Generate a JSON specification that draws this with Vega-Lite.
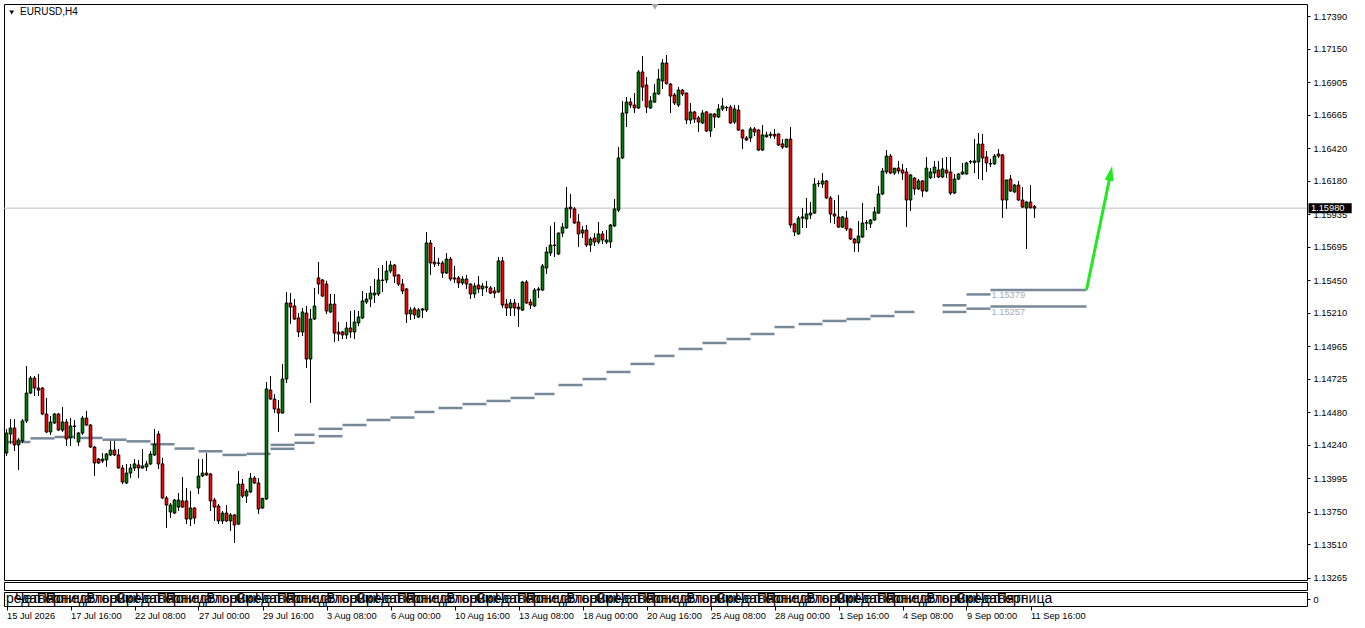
{
"$schema":"https://vega.github.io/schema/vega-lite/v6.json",
"background":"white",
"padding":{"left":3,"top":3,"right":0,"bottom":0},
"spacing":2,
"bounds":"flush",
"config":{"font":"Liberation Sans","scale":{"continuousPadding":0},"view":{"stroke":"#000","strokeWidth":1},"axis":{"grid":false,"domain":false,"labelColor":"#000","tickColor":"#000","labelFontSize":9.3,"tickSize":3,"labelFont":"Liberation Sans","title":null,"labelOverlap":false,"labelSeparation":0,"labelFlush":false}},
"datasets":{
"candles":[
{"i":0,"o":1.14180,"h":1.14357,"l":1.14158,"c":1.14327},
{"i":1,"o":1.14320,"h":1.14430,"l":1.14246,"c":1.14364},
{"i":2,"o":1.14364,"h":1.14430,"l":1.14195,"c":1.14239},
{"i":3,"o":1.14239,"h":1.14291,"l":1.14055,"c":1.14276},
{"i":4,"o":1.14269,"h":1.14430,"l":1.14254,"c":1.14416},
{"i":5,"o":1.14416,"h":1.14820,"l":1.14401,"c":1.14621},
{"i":6,"o":1.14621,"h":1.14746,"l":1.14614,"c":1.14731},
{"i":7,"o":1.14731,"h":1.14746,"l":1.14599,"c":1.14658},
{"i":8,"o":1.14658,"h":1.14761,"l":1.14599,"c":1.14643},
{"i":9,"o":1.14658,"h":1.14665,"l":1.14460,"c":1.14467},
{"i":10,"o":1.14467,"h":1.14585,"l":1.14327,"c":1.14335},
{"i":11,"o":1.14335,"h":1.14452,"l":1.14313,"c":1.14408},
{"i":12,"o":1.14401,"h":1.14474,"l":1.14394,"c":1.14467},
{"i":13,"o":1.14467,"h":1.14474,"l":1.14342,"c":1.14349},
{"i":14,"o":1.14349,"h":1.14518,"l":1.14335,"c":1.14408},
{"i":15,"o":1.14408,"h":1.14430,"l":1.14232,"c":1.14283},
{"i":16,"o":1.14291,"h":1.14437,"l":1.14232,"c":1.14379},
{"i":17,"o":1.14375,"h":1.14423,"l":1.14283,"c":1.14379},
{"i":18,"o":1.14261,"h":1.14335,"l":1.14232,"c":1.14327},
{"i":19,"o":1.14327,"h":1.14452,"l":1.14313,"c":1.14437},
{"i":20,"o":1.14437,"h":1.14489,"l":1.14379,"c":1.14386},
{"i":21,"o":1.14386,"h":1.14394,"l":1.14217,"c":1.14224},
{"i":22,"o":1.14224,"h":1.14232,"l":1.14011,"c":1.14107},
{"i":23,"o":1.14136,"h":1.14144,"l":1.14100,"c":1.14107},
{"i":24,"o":1.14122,"h":1.14180,"l":1.14107,"c":1.14136},
{"i":25,"o":1.14129,"h":1.14180,"l":1.14078,"c":1.14173},
{"i":26,"o":1.14166,"h":1.14269,"l":1.14158,"c":1.14202},
{"i":27,"o":1.14202,"h":1.14269,"l":1.14158,"c":1.14166},
{"i":28,"o":1.14166,"h":1.14210,"l":1.14066,"c":1.14070},
{"i":29,"o":1.14070,"h":1.14092,"l":1.13952,"c":1.13967},
{"i":30,"o":1.13960,"h":1.14100,"l":1.13952,"c":1.14033},
{"i":31,"o":1.14033,"h":1.14100,"l":1.13996,"c":1.14070},
{"i":32,"o":1.14070,"h":1.14136,"l":1.14048,"c":1.14100},
{"i":33,"o":1.14092,"h":1.14129,"l":1.13996,"c":1.14070},
{"i":34,"o":1.14070,"h":1.14210,"l":1.14066,"c":1.14085},
{"i":35,"o":1.14078,"h":1.14122,"l":1.14048,"c":1.14100},
{"i":36,"o":1.14100,"h":1.14195,"l":1.14092,"c":1.14173},
{"i":37,"o":1.14166,"h":1.14357,"l":1.14158,"c":1.14246},
{"i":38,"o":1.14320,"h":1.14342,"l":1.14063,"c":1.14100},
{"i":39,"o":1.14100,"h":1.14144,"l":1.13842,"c":1.13850},
{"i":40,"o":1.13850,"h":1.13864,"l":1.13629,"c":1.13798},
{"i":41,"o":1.13747,"h":1.13813,"l":1.13703,"c":1.13798},
{"i":42,"o":1.13739,"h":1.13842,"l":1.13732,"c":1.13835},
{"i":43,"o":1.13783,"h":1.13886,"l":1.13754,"c":1.13835},
{"i":44,"o":1.13828,"h":1.14004,"l":1.13776,"c":1.13783},
{"i":45,"o":1.13828,"h":1.13923,"l":1.13658,"c":1.13695},
{"i":46,"o":1.13695,"h":1.13901,"l":1.13644,"c":1.13776},
{"i":47,"o":1.13776,"h":1.13783,"l":1.13658,"c":1.13703},
{"i":48,"o":1.13923,"h":1.14136,"l":1.13879,"c":1.14011},
{"i":49,"o":1.14011,"h":1.14136,"l":1.14004,"c":1.14033},
{"i":50,"o":1.14033,"h":1.14180,"l":1.14011,"c":1.14019},
{"i":51,"o":1.14026,"h":1.14033,"l":1.13754,"c":1.13828},
{"i":52,"o":1.13835,"h":1.13850,"l":1.13681,"c":1.13783},
{"i":53,"o":1.13791,"h":1.13805,"l":1.13658,"c":1.13681},
{"i":54,"o":1.13681,"h":1.13754,"l":1.13658,"c":1.13739},
{"i":55,"o":1.13739,"h":1.13798,"l":1.13673,"c":1.13681},
{"i":56,"o":1.13681,"h":1.13739,"l":1.13607,"c":1.13725},
{"i":57,"o":1.13725,"h":1.13732,"l":1.13519,"c":1.13651},
{"i":58,"o":1.13658,"h":1.14048,"l":1.13651,"c":1.13952},
{"i":59,"o":1.13952,"h":1.13989,"l":1.13850,"c":1.13864},
{"i":60,"o":1.13864,"h":1.13916,"l":1.13813,"c":1.13901},
{"i":61,"o":1.13894,"h":1.14033,"l":1.13886,"c":1.13996},
{"i":62,"o":1.13996,"h":1.14011,"l":1.13952,"c":1.13960},
{"i":63,"o":1.13960,"h":1.13996,"l":1.13732,"c":1.13769},
{"i":64,"o":1.13776,"h":1.13850,"l":1.13769,"c":1.13847},
{"i":65,"o":1.13842,"h":1.14702,"l":1.13835,"c":1.14651},
{"i":66,"o":1.14643,"h":1.14746,"l":1.14570,"c":1.14577},
{"i":67,"o":1.14577,"h":1.14614,"l":1.14474,"c":1.14504},
{"i":68,"o":1.14504,"h":1.14570,"l":1.14335,"c":1.14474},
{"i":69,"o":1.14474,"h":1.14835,"l":1.14471,"c":1.14724},
{"i":70,"o":1.14724,"h":1.15364,"l":1.14695,"c":1.15283},
{"i":71,"o":1.15283,"h":1.15356,"l":1.15128,"c":1.15253},
{"i":72,"o":1.15261,"h":1.15312,"l":1.15158,"c":1.15165},
{"i":73,"o":1.15173,"h":1.15209,"l":1.15033,"c":1.15070},
{"i":74,"o":1.15070,"h":1.15246,"l":1.15040,"c":1.15217},
{"i":75,"o":1.15209,"h":1.15261,"l":1.14805,"c":1.14871},
{"i":76,"o":1.14871,"h":1.15239,"l":1.14548,"c":1.15165},
{"i":77,"o":1.15165,"h":1.15393,"l":1.15158,"c":1.15261},
{"i":78,"o":1.15467,"h":1.15584,"l":1.15349,"c":1.15422},
{"i":79,"o":1.15452,"h":1.15459,"l":1.15327,"c":1.15334},
{"i":80,"o":1.15422,"h":1.15445,"l":1.15202,"c":1.15224},
{"i":81,"o":1.15217,"h":1.15349,"l":1.15209,"c":1.15275},
{"i":82,"o":1.15275,"h":1.15349,"l":1.14996,"c":1.15062},
{"i":83,"o":1.15070,"h":1.15143,"l":1.15004,"c":1.15055},
{"i":84,"o":1.15070,"h":1.15077,"l":1.15018,"c":1.15048},
{"i":85,"o":1.15048,"h":1.15143,"l":1.15018,"c":1.15099},
{"i":86,"o":1.15099,"h":1.15224,"l":1.15026,"c":1.15070},
{"i":87,"o":1.15070,"h":1.15231,"l":1.15018,"c":1.15143},
{"i":88,"o":1.15136,"h":1.15224,"l":1.15114,"c":1.15180},
{"i":89,"o":1.15173,"h":1.15371,"l":1.15165,"c":1.15298},
{"i":90,"o":1.15290,"h":1.15356,"l":1.15275,"c":1.15312},
{"i":91,"o":1.15312,"h":1.15408,"l":1.15253,"c":1.15356},
{"i":92,"o":1.15342,"h":1.15459,"l":1.15283,"c":1.15356},
{"i":93,"o":1.15349,"h":1.15540,"l":1.15334,"c":1.15452},
{"i":94,"o":1.15452,"h":1.15562,"l":1.15364,"c":1.15448},
{"i":95,"o":1.15452,"h":1.15592,"l":1.15430,"c":1.15518},
{"i":96,"o":1.15518,"h":1.15592,"l":1.15503,"c":1.15562},
{"i":97,"o":1.15562,"h":1.15570,"l":1.15430,"c":1.15481},
{"i":98,"o":1.15489,"h":1.15496,"l":1.15408,"c":1.15422},
{"i":99,"o":1.15422,"h":1.15459,"l":1.15349,"c":1.15371},
{"i":100,"o":1.15386,"h":1.15393,"l":1.15136,"c":1.15202},
{"i":101,"o":1.15202,"h":1.15253,"l":1.15158,"c":1.15231},
{"i":102,"o":1.15239,"h":1.15253,"l":1.15165,"c":1.15195},
{"i":103,"o":1.15180,"h":1.15246,"l":1.15173,"c":1.15231},
{"i":104,"o":1.15239,"h":1.15246,"l":1.15173,"c":1.15231},
{"i":105,"o":1.15231,"h":1.15805,"l":1.15217,"c":1.15724},
{"i":106,"o":1.15724,"h":1.15746,"l":1.15489,"c":1.15577},
{"i":107,"o":1.15584,"h":1.15694,"l":1.15548,"c":1.15570},
{"i":108,"o":1.15577,"h":1.15614,"l":1.15555,"c":1.15575},
{"i":109,"o":1.15577,"h":1.15592,"l":1.15467,"c":1.15503},
{"i":110,"o":1.15503,"h":1.15650,"l":1.15496,"c":1.15606},
{"i":111,"o":1.15606,"h":1.15621,"l":1.15445,"c":1.15459},
{"i":112,"o":1.15467,"h":1.15555,"l":1.15430,"c":1.15459},
{"i":113,"o":1.15467,"h":1.15481,"l":1.15393,"c":1.15430},
{"i":114,"o":1.15430,"h":1.15481,"l":1.15415,"c":1.15459},
{"i":115,"o":1.15459,"h":1.15489,"l":1.15386,"c":1.15422},
{"i":116,"o":1.15422,"h":1.15427,"l":1.15312,"c":1.15349},
{"i":117,"o":1.15349,"h":1.15430,"l":1.15320,"c":1.15408},
{"i":118,"o":1.15415,"h":1.15481,"l":1.15356,"c":1.15386},
{"i":119,"o":1.15386,"h":1.15430,"l":1.15334,"c":1.15408},
{"i":120,"o":1.15401,"h":1.15445,"l":1.15364,"c":1.15398},
{"i":121,"o":1.15393,"h":1.15408,"l":1.15349,"c":1.15356},
{"i":122,"o":1.15371,"h":1.15400,"l":1.15320,"c":1.15356},
{"i":123,"o":1.15364,"h":1.15621,"l":1.15356,"c":1.15592},
{"i":124,"o":1.15592,"h":1.15621,"l":1.15246,"c":1.15268},
{"i":125,"o":1.15275,"h":1.15312,"l":1.15187,"c":1.15246},
{"i":126,"o":1.15246,"h":1.15312,"l":1.15187,"c":1.15283},
{"i":127,"o":1.15283,"h":1.15312,"l":1.15187,"c":1.15246},
{"i":128,"o":1.15253,"h":1.15283,"l":1.15106,"c":1.15239},
{"i":129,"o":1.15231,"h":1.15445,"l":1.15224,"c":1.15437},
{"i":130,"o":1.15437,"h":1.15452,"l":1.15275,"c":1.15283},
{"i":131,"o":1.15290,"h":1.15312,"l":1.15239,"c":1.15268},
{"i":132,"o":1.15261,"h":1.15393,"l":1.15253,"c":1.15378},
{"i":133,"o":1.15378,"h":1.15400,"l":1.15320,"c":1.15386},
{"i":134,"o":1.15378,"h":1.15570,"l":1.15371,"c":1.15555},
{"i":135,"o":1.15540,"h":1.15694,"l":1.15496,"c":1.15658},
{"i":136,"o":1.15650,"h":1.15849,"l":1.15628,"c":1.15709},
{"i":137,"o":1.15709,"h":1.15878,"l":1.15621,"c":1.15705},
{"i":138,"o":1.15643,"h":1.15801,"l":1.15636,"c":1.15797},
{"i":139,"o":1.15797,"h":1.15871,"l":1.15768,"c":1.15841},
{"i":140,"o":1.15834,"h":1.16136,"l":1.15830,"c":1.15981},
{"i":141,"o":1.15988,"h":1.16084,"l":1.15907,"c":1.15974},
{"i":142,"o":1.15974,"h":1.15988,"l":1.15864,"c":1.15871},
{"i":143,"o":1.15878,"h":1.15937,"l":1.15694,"c":1.15790},
{"i":144,"o":1.15797,"h":1.15849,"l":1.15761,"c":1.15819},
{"i":145,"o":1.15819,"h":1.15856,"l":1.15694,"c":1.15709},
{"i":146,"o":1.15709,"h":1.15768,"l":1.15658,"c":1.15753},
{"i":147,"o":1.15761,"h":1.15797,"l":1.15702,"c":1.15731},
{"i":148,"o":1.15731,"h":1.15878,"l":1.15716,"c":1.15790},
{"i":149,"o":1.15790,"h":1.15812,"l":1.15716,"c":1.15746},
{"i":150,"o":1.15731,"h":1.15819,"l":1.15716,"c":1.15746},
{"i":151,"o":1.15731,"h":1.15864,"l":1.15687,"c":1.15856},
{"i":152,"o":1.15849,"h":1.16047,"l":1.15841,"c":1.15974},
{"i":153,"o":1.15966,"h":1.16429,"l":1.15952,"c":1.16349},
{"i":154,"o":1.16349,"h":1.16768,"l":1.16341,"c":1.16679},
{"i":155,"o":1.16679,"h":1.16797,"l":1.16576,"c":1.16760},
{"i":156,"o":1.16760,"h":1.16790,"l":1.16716,"c":1.16738},
{"i":157,"o":1.16738,"h":1.16826,"l":1.16679,"c":1.16716},
{"i":158,"o":1.16716,"h":1.16995,"l":1.16709,"c":1.16981},
{"i":159,"o":1.16981,"h":1.17098,"l":1.16768,"c":1.16870},
{"i":160,"o":1.16885,"h":1.16944,"l":1.16679,"c":1.16723},
{"i":161,"o":1.16716,"h":1.16804,"l":1.16709,"c":1.16768},
{"i":162,"o":1.16760,"h":1.16892,"l":1.16753,"c":1.16826},
{"i":163,"o":1.16819,"h":1.17003,"l":1.16815,"c":1.16929},
{"i":164,"o":1.16915,"h":1.17076,"l":1.16856,"c":1.17047},
{"i":165,"o":1.17047,"h":1.17106,"l":1.16889,"c":1.16895},
{"i":166,"o":1.16892,"h":1.16900,"l":1.16679,"c":1.16804},
{"i":167,"o":1.16812,"h":1.16826,"l":1.16738,"c":1.16753},
{"i":168,"o":1.16738,"h":1.16870,"l":1.16723,"c":1.16848},
{"i":169,"o":1.16848,"h":1.16856,"l":1.16804,"c":1.16819},
{"i":170,"o":1.16826,"h":1.16830,"l":1.16598,"c":1.16628},
{"i":171,"o":1.16628,"h":1.16753,"l":1.16598,"c":1.16687},
{"i":172,"o":1.16687,"h":1.16694,"l":1.16606,"c":1.16635},
{"i":173,"o":1.16643,"h":1.16657,"l":1.16540,"c":1.16613},
{"i":174,"o":1.16606,"h":1.16701,"l":1.16598,"c":1.16679},
{"i":175,"o":1.16687,"h":1.16694,"l":1.16540,"c":1.16547},
{"i":176,"o":1.16547,"h":1.16676,"l":1.16503,"c":1.16672},
{"i":177,"o":1.16672,"h":1.16679,"l":1.16569,"c":1.16650},
{"i":178,"o":1.16650,"h":1.16745,"l":1.16643,"c":1.16709},
{"i":179,"o":1.16709,"h":1.16790,"l":1.16694,"c":1.16731},
{"i":180,"o":1.16720,"h":1.16731,"l":1.16694,"c":1.16718},
{"i":181,"o":1.16723,"h":1.16738,"l":1.16598,"c":1.16606},
{"i":182,"o":1.16613,"h":1.16738,"l":1.16598,"c":1.16709},
{"i":183,"o":1.16701,"h":1.16738,"l":1.16547,"c":1.16554},
{"i":184,"o":1.16554,"h":1.16558,"l":1.16415,"c":1.16496},
{"i":185,"o":1.16496,"h":1.16510,"l":1.16474,"c":1.16481},
{"i":186,"o":1.16496,"h":1.16576,"l":1.16466,"c":1.16562},
{"i":187,"o":1.16562,"h":1.16576,"l":1.16510,"c":1.16540},
{"i":188,"o":1.16554,"h":1.16562,"l":1.16400,"c":1.16407},
{"i":189,"o":1.16407,"h":1.16591,"l":1.16400,"c":1.16518},
{"i":190,"o":1.16505,"h":1.16542,"l":1.16498,"c":1.16518},
{"i":191,"o":1.16515,"h":1.16542,"l":1.16493,"c":1.16523},
{"i":192,"o":1.16523,"h":1.16562,"l":1.16488,"c":1.16510},
{"i":193,"o":1.16525,"h":1.16530,"l":1.16437,"c":1.16444},
{"i":194,"o":1.16452,"h":1.16488,"l":1.16415,"c":1.16429},
{"i":195,"o":1.16429,"h":1.16490,"l":1.16422,"c":1.16486},
{"i":196,"o":1.16488,"h":1.16576,"l":1.15834,"c":1.15856},
{"i":197,"o":1.15864,"h":1.15871,"l":1.15775,"c":1.15805},
{"i":198,"o":1.15790,"h":1.15922,"l":1.15786,"c":1.15907},
{"i":199,"o":1.15907,"h":1.15981,"l":1.15834,"c":1.15915},
{"i":200,"o":1.15900,"h":1.16055,"l":1.15834,"c":1.15937},
{"i":201,"o":1.15930,"h":1.16025,"l":1.15900,"c":1.15944},
{"i":202,"o":1.15944,"h":1.16201,"l":1.15937,"c":1.16157},
{"i":203,"o":1.16159,"h":1.16184,"l":1.16135,"c":1.16161},
{"i":204,"o":1.16157,"h":1.16238,"l":1.16128,"c":1.16180},
{"i":205,"o":1.16180,"h":1.16187,"l":1.16047,"c":1.16055},
{"i":206,"o":1.16055,"h":1.16069,"l":1.15871,"c":1.15937},
{"i":207,"o":1.15937,"h":1.16040,"l":1.15864,"c":1.15922},
{"i":208,"o":1.15915,"h":1.16077,"l":1.15834,"c":1.15841},
{"i":209,"o":1.15841,"h":1.15922,"l":1.15834,"c":1.15915},
{"i":210,"o":1.15907,"h":1.15959,"l":1.15812,"c":1.15827},
{"i":211,"o":1.15827,"h":1.15834,"l":1.15746,"c":1.15753},
{"i":212,"o":1.15753,"h":1.15761,"l":1.15658,"c":1.15724},
{"i":213,"o":1.15724,"h":1.15886,"l":1.15658,"c":1.15775},
{"i":214,"o":1.15768,"h":1.16018,"l":1.15761,"c":1.15871},
{"i":215,"o":1.15871,"h":1.15893,"l":1.15819,"c":1.15873},
{"i":216,"o":1.15864,"h":1.15900,"l":1.15834,"c":1.15893},
{"i":217,"o":1.15893,"h":1.15988,"l":1.15886,"c":1.15952},
{"i":218,"o":1.15944,"h":1.16143,"l":1.15937,"c":1.16084},
{"i":219,"o":1.16084,"h":1.16275,"l":1.16077,"c":1.16253},
{"i":220,"o":1.16246,"h":1.16407,"l":1.16231,"c":1.16363},
{"i":221,"o":1.16363,"h":1.16378,"l":1.16231,"c":1.16238},
{"i":222,"o":1.16238,"h":1.16277,"l":1.16224,"c":1.16273},
{"i":223,"o":1.16275,"h":1.16327,"l":1.16231,"c":1.16253},
{"i":224,"o":1.16260,"h":1.16305,"l":1.16187,"c":1.16238},
{"i":225,"o":1.16246,"h":1.16275,"l":1.15841,"c":1.16040},
{"i":226,"o":1.16040,"h":1.16231,"l":1.15959,"c":1.16224},
{"i":227,"o":1.16201,"h":1.16209,"l":1.16077,"c":1.16121},
{"i":228,"o":1.16121,"h":1.16194,"l":1.16113,"c":1.16180},
{"i":229,"o":1.16180,"h":1.16187,"l":1.16062,"c":1.16106},
{"i":230,"o":1.16106,"h":1.16356,"l":1.16099,"c":1.16275},
{"i":231,"o":1.16204,"h":1.16275,"l":1.16194,"c":1.16246},
{"i":232,"o":1.16238,"h":1.16327,"l":1.16201,"c":1.16282},
{"i":233,"o":1.16260,"h":1.16327,"l":1.16201,"c":1.16209},
{"i":234,"o":1.16209,"h":1.16349,"l":1.16201,"c":1.16268},
{"i":235,"o":1.16260,"h":1.16356,"l":1.16201,"c":1.16238},
{"i":236,"o":1.16246,"h":1.16356,"l":1.16077,"c":1.16091},
{"i":237,"o":1.16091,"h":1.16231,"l":1.16084,"c":1.16194},
{"i":238,"o":1.16194,"h":1.16238,"l":1.16187,"c":1.16231},
{"i":239,"o":1.16231,"h":1.16312,"l":1.16224,"c":1.16246},
{"i":240,"o":1.16231,"h":1.16320,"l":1.16227,"c":1.16312},
{"i":241,"o":1.16320,"h":1.16334,"l":1.16305,"c":1.16323},
{"i":242,"o":1.16315,"h":1.16488,"l":1.16238,"c":1.16327},
{"i":243,"o":1.16320,"h":1.16532,"l":1.16194,"c":1.16451},
{"i":244,"o":1.16451,"h":1.16525,"l":1.16187,"c":1.16349},
{"i":245,"o":1.16356,"h":1.16400,"l":1.16246,"c":1.16312},
{"i":246,"o":1.16305,"h":1.16341,"l":1.16282,"c":1.16307},
{"i":247,"o":1.16305,"h":1.16378,"l":1.16297,"c":1.16363},
{"i":248,"o":1.16378,"h":1.16415,"l":1.16349,"c":1.16363},
{"i":249,"o":1.16371,"h":1.16378,"l":1.15907,"c":1.16040},
{"i":250,"o":1.16040,"h":1.16190,"l":1.15974,"c":1.16187},
{"i":251,"o":1.16194,"h":1.16224,"l":1.16099,"c":1.16106},
{"i":252,"o":1.16099,"h":1.16157,"l":1.16091,"c":1.16150},
{"i":253,"o":1.16150,"h":1.16180,"l":1.16033,"c":1.16040},
{"i":254,"o":1.16040,"h":1.16135,"l":1.15981,"c":1.15988},
{"i":255,"o":1.15981,"h":1.16033,"l":1.15680,"c":1.16025},
{"i":256,"o":1.16025,"h":1.16150,"l":1.15977,"c":1.15983},
{"i":257,"o":1.15991,"h":1.16003,"l":1.15907,"c":1.15980}
],
"levels":[
{"s":0,"e":6,"v":1.14261},{"s":6,"e":12,"v":1.14288},{"s":12,"e":17,"v":1.14298},{"s":18,"e":24,"v":1.14291},
{"s":24,"e":30,"v":1.14278},{"s":30,"e":36,"v":1.14266},{"s":36,"e":42,"v":1.14245},{"s":42,"e":47,"v":1.14213},
{"s":48,"e":54,"v":1.14193},{"s":54,"e":60,"v":1.14166},{"s":60,"e":66,"v":1.14174},
{"s":66,"e":72,"v":1.14240},{"s":66,"e":72,"v":1.14211},
{"s":72,"e":77,"v":1.14314},{"s":72,"e":77,"v":1.14255},
{"s":78,"e":84,"v":1.14358},{"s":78,"e":84,"v":1.14304},
{"s":84,"e":90,"v":1.14386},{"s":90,"e":96,"v":1.14423},{"s":96,"e":102,"v":1.14441},{"s":102,"e":107,"v":1.14482},
{"s":108,"e":114,"v":1.14511},{"s":114,"e":120,"v":1.14540},{"s":120,"e":126,"v":1.14563},{"s":126,"e":132,"v":1.14585},{"s":132,"e":137,"v":1.14614},
{"s":138,"e":144,"v":1.14680},{"s":144,"e":150,"v":1.14724},{"s":150,"e":156,"v":1.14776},{"s":156,"e":162,"v":1.14835},{"s":162,"e":167,"v":1.14894},
{"s":168,"e":174,"v":1.14945},{"s":174,"e":180,"v":1.14989},{"s":180,"e":186,"v":1.15018},{"s":186,"e":192,"v":1.15055},{"s":192,"e":197,"v":1.15106},
{"s":198,"e":204,"v":1.15128},{"s":204,"e":210,"v":1.15151},{"s":210,"e":216,"v":1.15165},{"s":216,"e":222,"v":1.15187},{"s":222,"e":227,"v":1.15217},
{"s":234,"e":240,"v":1.15266},{"s":234,"e":240,"v":1.15217},
{"s":240,"e":246,"v":1.15346},{"s":240,"e":246,"v":1.15241},
{"s":246,"e":270,"v":1.15379},{"s":246,"e":270,"v":1.15257}
],
"levelLabels":[{"i":246.25,"v":1.15379,"t":"1.15379"},{"i":246.25,"v":1.15257,"t":"1.15257"}],
"arrow":[{"i":270,"p":1.15379,"i2":275.75,"p2":1.16194}],
"arrowHead":[{"i":276.03,"p":1.16236}],
"header":[{"i":3.4,"p":1.17422,"t":"EURUSD,H4"}],
"headerMark":[{"i":1.3,"p":1.17418}],
"shiftMark":[{"i":162.1,"p":1.17460}],
"tag":[{"p":1.1598,"t":"1.15980"}],
"days":[
{"i":2.5,"n":"Среда"},{"i":8.5,"n":"Четверг"},{"i":14.5,"n":"Пятница"},{"i":20.5,"n":"Понедельник"},{"i":26.5,"n":"Вторник"},
{"i":32.5,"n":"Среда"},{"i":38.5,"n":"Четверг"},{"i":44.5,"n":"Пятница"},{"i":50.5,"n":"Понедельник"},{"i":56.5,"n":"Вторник"},
{"i":62.5,"n":"Среда"},{"i":68.5,"n":"Четверг"},{"i":74.5,"n":"Пятница"},{"i":80.5,"n":"Понедельник"},{"i":86.5,"n":"Вторник"},
{"i":92.5,"n":"Среда"},{"i":98.5,"n":"Четверг"},{"i":104.5,"n":"Пятница"},{"i":110.5,"n":"Понедельник"},{"i":116.5,"n":"Вторник"},
{"i":122.5,"n":"Среда"},{"i":128.5,"n":"Четверг"},{"i":134.5,"n":"Пятница"},{"i":140.5,"n":"Понедельник"},{"i":146.5,"n":"Вторник"},
{"i":152.5,"n":"Среда"},{"i":158.5,"n":"Четверг"},{"i":164.5,"n":"Пятница"},{"i":170.5,"n":"Понедельник"},{"i":176.5,"n":"Вторник"},
{"i":182.5,"n":"Среда"},{"i":188.5,"n":"Четверг"},{"i":194.5,"n":"Пятница"},{"i":200.5,"n":"Понедельник"},{"i":206.5,"n":"Вторник"},
{"i":212.5,"n":"Среда"},{"i":218.5,"n":"Четверг"},{"i":224.5,"n":"Пятница"},{"i":230.5,"n":"Понедельник"},{"i":236.5,"n":"Вторник"},
{"i":242.5,"n":"Среда"},{"i":248.5,"n":"Четверг"},{"i":254.5,"n":"Пятница"}
]
},
"vconcat":[
{
"width":1303,"height":576,
"resolve":{"axis":{"y":"independent","x":"independent"}},
"layer":[
{"data":{"name":"levels"},"mark":{"type":"rule","color":"#778899","strokeWidth":2.5},
 "encoding":{"x":{"field":"s","type":"quantitative","scale":{"domain":[-0.625,325.125],"nice":false,"zero":false,"padding":0},"axis":null},"x2":{"field":"e"},
 "y":{"field":"v","type":"quantitative","scale":{"domain":[1.132469,1.174805],"nice":false,"zero":false,"padding":0},
  "axis":{"orient":"right","values":[1.1739,1.1715,1.16905,1.16665,1.1642,1.1618,1.15935,1.15695,1.1545,1.1521,1.14965,1.14725,1.1448,1.1424,1.13995,1.1375,1.1351,1.13265],"format":".5f","tickSize":3,"labelPadding":3,"labelOverlap":false,"labelSeparation":0,"labelFlush":false,"labelBaseline":"middle","title":null}}}},
{"data":{"name":"tag"},"mark":{"type":"rule","color":"#c0c0c0","strokeWidth":1},
 "encoding":{"y":{"field":"p","type":"quantitative","scale":{"domain":[1.132469,1.174805],"nice":false,"zero":false,"padding":0},"axis":null}}},
{"data":{"name":"candles"},"mark":{"type":"rule","color":"#000","strokeWidth":1},
 "encoding":{"x":{"field":"i","type":"quantitative","scale":{"domain":[-0.625,325.125],"nice":false,"zero":false,"padding":0},"axis":null},
 "y":{"field":"l","type":"quantitative","scale":{"domain":[1.132469,1.174805],"nice":false,"zero":false,"padding":0},"axis":null},
 "y2":{"field":"h"}}},
{"data":{"name":"candles"},"mark":{"type":"bar","stroke":"#000","strokeWidth":1},
 "encoding":{"x":{"field":"i","type":"quantitative","scale":{"domain":[-0.625,325.125],"nice":false,"zero":false,"padding":0},"axis":null},
 "y":{"field":"o","type":"quantitative","scale":{"domain":[1.132469,1.174805],"nice":false,"zero":false,"padding":0},"axis":null},"y2":{"field":"c"},
 "size":{"value":2.6},
 "fill":{"condition":{"test":"datum.c >= datum.o","value":"#008000"},"value":"#ff0000"}}},
{"data":{"name":"levelLabels"},"mark":{"type":"text","color":"#a4abb8","fontSize":9.3,"align":"left","baseline":"top","dy":1.5},
 "encoding":{"x":{"field":"i","type":"quantitative","scale":{"domain":[-0.625,325.125],"nice":false,"zero":false,"padding":0},"axis":null},"y":{"field":"v","type":"quantitative","scale":{"domain":[1.132469,1.174805],"nice":false,"zero":false,"padding":0},"axis":null},"text":{"field":"t"}}},
{"data":{"name":"arrow"},"mark":{"type":"rule","color":"#22e822","strokeWidth":3},
 "encoding":{"x":{"field":"i","type":"quantitative","scale":{"domain":[-0.625,325.125],"nice":false,"zero":false,"padding":0},"axis":null},"x2":{"field":"i2"},"y":{"field":"p","type":"quantitative","scale":{"domain":[1.132469,1.174805],"nice":false,"zero":false,"padding":0},"axis":null},"y2":{"field":"p2"}}},
{"data":{"name":"arrowHead"},"mark":{"type":"point","shape":"M0,-1L0.6,1L-0.6,1Z","filled":true,"color":"#22e822","opacity":1,"size":225,"angle":11.7,"strokeWidth":0},
 "encoding":{"x":{"field":"i","type":"quantitative","scale":{"domain":[-0.625,325.125],"nice":false,"zero":false,"padding":0},"axis":null},"y":{"field":"p","type":"quantitative","scale":{"domain":[1.132469,1.174805],"nice":false,"zero":false,"padding":0},"axis":null}}},
{"data":{"name":"header"},"mark":{"type":"text","color":"#000","fontSize":10,"align":"left","baseline":"middle"},
 "encoding":{"x":{"field":"i","type":"quantitative","scale":{"domain":[-0.625,325.125],"nice":false,"zero":false,"padding":0},"axis":null},"y":{"field":"p","type":"quantitative","scale":{"domain":[1.132469,1.174805],"nice":false,"zero":false,"padding":0},"axis":null},"text":{"field":"t"}}},
{"data":{"name":"headerMark"},"mark":{"type":"point","shape":"triangle-down","filled":true,"color":"#000","opacity":1,"size":22},
 "encoding":{"x":{"field":"i","type":"quantitative","scale":{"domain":[-0.625,325.125],"nice":false,"zero":false,"padding":0},"axis":null},"y":{"field":"p","type":"quantitative","scale":{"domain":[1.132469,1.174805],"nice":false,"zero":false,"padding":0},"axis":null}}},
{"data":{"name":"shiftMark"},"mark":{"type":"point","shape":"triangle-down","filled":true,"color":"#a8a8a8","opacity":1,"size":45},
 "encoding":{"x":{"field":"i","type":"quantitative","scale":{"domain":[-0.625,325.125],"nice":false,"zero":false,"padding":0},"axis":null},"y":{"field":"p","type":"quantitative","scale":{"domain":[1.132469,1.174805],"nice":false,"zero":false,"padding":0},"axis":null}}},
{"data":{"name":"tag"},"mark":{"type":"bar","orient":"horizontal","color":"#000"},
 "encoding":{"x":{"datum":325.5,"type":"quantitative","scale":{"domain":[-0.625,325.125],"nice":false,"zero":false,"padding":0},"axis":null},"x2":{"datum":336.3},"y":{"field":"p","type":"quantitative","scale":{"domain":[1.132469,1.174805],"nice":false,"zero":false,"padding":0},"axis":null},"size":{"value":10}}},
{"data":{"name":"tag"},"mark":{"type":"text","color":"#fff","fontSize":9.3,"align":"left","baseline":"middle"},
 "encoding":{"x":{"datum":326.1,"type":"quantitative","scale":{"domain":[-0.625,325.125],"nice":false,"zero":false,"padding":0},"axis":null},"y":{"field":"p","type":"quantitative","scale":{"domain":[1.132469,1.174805],"nice":false,"zero":false,"padding":0},"axis":null},"text":{"field":"t"}}}
]
},
{
"width":1303,"height":8,
"data":{"values":[]},
"mark":{"type":"rule"},
"encoding":{"x":{"field":"i","type":"quantitative","scale":{"domain":[-0.625,325.125],"nice":false,"zero":false},"axis":null}}
},
{
"width":1303,"height":14,
"data":{"name":"days"},
"mark":{"type":"text","color":"#000","fontSize":14,"align":"center","baseline":"middle","clip":true},
"encoding":{
 "x":{"field":"i","type":"quantitative","scale":{"domain":[-0.625,325.125],"nice":false,"zero":false},
  "axis":{"orient":"bottom","values":[0,16,32,48,64,80,96,112,128,144,160,176,192,208,224,240,256],
   "labelExpr":"['15 Jul 2026','17 Jul 16:00','22 Jul 08:00','27 Jul 00:00','29 Jul 16:00','3 Aug 08:00','6 Aug 00:00','10 Aug 16:00','13 Aug 08:00','18 Aug 00:00','20 Aug 16:00','25 Aug 08:00','28 Aug 00:00','1 Sep 16:00','4 Sep 08:00','9 Sep 00:00','11 Sep 16:00'][round(datum.value/16)]",
   "labelAlign":"left","labelFlush":false,"labelOverlap":false,"tickSize":4,"labelPadding":1,"labelBaseline":"top","title":null}},
 "y":{"datum":0,"type":"quantitative","scale":{"domain":[-1,1],"nice":false,"zero":false},"axis":{"orient":"right","values":[0],"format":"d","tickSize":3,"labelPadding":3,"title":null}},
 "text":{"field":"n"}
}
}
]
}
